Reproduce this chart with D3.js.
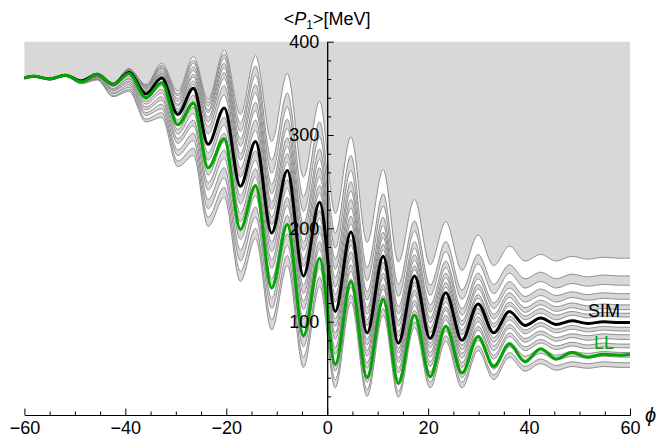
<!DOCTYPE html>
<html><head><meta charset="utf-8">
<script src="https://cdn.jsdelivr.net/npm/d3@7"></script>
<style>body{margin:0;background:#fff}svg{display:block}text{font-family:"Liberation Sans",Arial,sans-serif}</style>
</head><body><svg id="c" width="660" height="446"></svg>
<script>
// phase values at the turning points of the curves
const phiKnots = [-60,-58.2,-55,-51.9,-48.7,-45.6,-42.4,-39.3,-35.9,-32.8,-29.6,-26.5,-23.6,-20.4,-17.2,-14.2,-11,-7.9,-4.7,-1.5,1.6,4.7,7.9,11.1,14.1,17.3,20.4,23.5,26.7,29.9,33,36.1,39.2,42.3,45.4,48.5,51.6,54.8,57.9,60];
const simValues = [361,363,360,364,358,365,354,367,344,361,322,350,290,329,245,293,195,262,149,228,111,196,88,170,77,149,82,131,80,119,88,111,96,104,97,101,98,100,99,99];
const llValues  = [361,363,360,364,357,365,354,366,340,356,311,334,265,296,199,246,136,204,85,168,54,143,40,124,34,107,41,95,45,84,52,76,57,71,60,67,62,65,64,65];
// gray family, top to bottom
const curveU0 = [361,363,360,364,358,366,356,371,354,377,347,384,338,391,322,385,293,366,255,336,216,298,185,263,164,231,161,207,155,193,160,181,165,172,165,170,167,169,168,168];
const curveU1 = [361,363,360,364,358,366,356,371,353,375,344,380,335,387,313,374,273,345,234,314,195,278,158,237,140,208,139,186,134,172,140,161,146,153,146,151,148,150,149,149];
const curveU2 = [361,363,360,364,358,366,356,370,352,373,342,377,331,382,304,364,259,330,218,298,179,262,144,224,127,197,128,175,124,162,130,152,136,143,136,141,138,140,139,139];
const curveU3 = [361,363,360,364,358,366,355,370,351,372,339,373,327,377,296,354,247,317,205,285,167,250,132,212,116,186,118,165,114,152,120,143,127,135,128,132,129,131,130,130];
const curveU4 = [361,363,360,364,358,366,355,369,350,370,336,369,324,372,288,345,237,307,195,274,156,240,123,203,108,179,110,158,107,146,114,136,121,128,121,126,123,125,124,124];
const curveU5 = [361,363,360,364,358,365,355,369,349,368,333,365,319,367,280,335,228,297,185,265,147,231,115,196,101,172,104,152,101,140,108,131,115,123,116,120,117,119,118,118];
const curveU6 = [361,363,360,364,358,365,355,368,347,366,331,362,314,361,273,326,220,288,176,255,137,222,108,190,95,166,99,147,96,135,103,126,110,118,111,115,112,114,113,113];
const curveU7 = [361,363,360,364,358,365,354,368,346,365,328,358,309,353,264,316,212,280,167,246,129,213,102,183,89,160,93,142,91,129,98,121,106,114,107,111,108,110,109,109];
const curveU8 = [361,363,360,364,358,365,354,367,345,363,325,354,301,343,255,305,204,271,159,238,121,205,96,177,84,156,88,137,86,125,94,117,102,109,102,107,104,106,105,105];
const curveL0 = [361,363,360,364,358,364,353,365,341,357,316,343,281,319,235,283,185,252,139,219,103,188,81,164,71,143,77,126,75,114,83,106,91,99,92,96,93,95,94,94];
const curveL1 = [361,363,360,364,357,364,352,363,338,353,311,336,273,311,226,273,175,243,130,211,95,182,75,158,66,139,72,121,70,109,78,102,87,95,88,92,89,91,90,90];
const curveL2 = [361,363,360,364,357,363,350,361,336,349,306,330,265,302,216,264,166,233,122,203,88,175,69,152,61,134,67,116,66,105,74,97,82,90,83,87,85,87,86,86];
const curveL3 = [361,363,360,364,357,363,349,360,333,345,301,323,257,293,207,255,157,224,113,195,81,168,63,147,56,129,62,112,61,100,69,93,78,86,79,83,80,82,81,81];
const curveL4 = [361,363,360,364,357,362,348,358,330,341,296,316,249,284,197,244,146,214,103,186,72,161,56,140,50,123,57,107,56,95,64,88,73,81,74,78,75,77,76,76];
const curveL5 = [361,363,360,363,356,362,347,356,327,337,291,310,241,275,188,235,137,205,94,178,65,154,50,135,45,118,52,102,51,91,60,84,69,77,70,74,71,73,72,72];
const curveL6 = [361,363,360,363,356,361,345,354,324,333,284,302,231,265,177,223,125,194,83,168,56,146,42,128,38,112,46,96,46,85,54,78,63,71,64,68,66,68,67,67];
const curveL7 = [361,363,360,363,356,360,344,351,321,328,278,294,221,254,165,212,114,182,73,158,47,137,35,121,32,106,41,90,40,80,49,73,58,66,59,63,61,63,62,62];
const curveL8 = [361,363,360,363,355,360,342,349,317,324,272,286,212,244,154,200,102,171,62,148,38,129,27,114,25,100,35,85,35,74,43,67,52,60,53,57,55,57,56,56];
const curveL9 = [361,363,360,363,355,359,341,347,314,319,266,278,202,233,143,189,91,160,51,138,29,121,20,107,19,94,29,79,29,69,38,62,47,55,48,52,50,52,51,51];
const xTicks = [-60,-40,-20,0,20,40,60];
const yTicks = [100,200,300,400];

const grayCurves = [curveU0,curveU1,curveU2,curveU3,curveU4,curveU5,curveU6,curveU7,curveU8,
                    curveL0,curveL1,curveL2,curveL3,curveL4,curveL5,curveL6,curveL7,curveL8,curveL9];

const svg = d3.select("#c");
const x = d3.scaleLinear().domain([-60,60]).range([24.4,630]);
const y = d3.scaleLinear().domain([0,400]).range([415,41.7]);
const FILL = "#d8d8d8";

const line = d3.line().x((d,i)=>x(phiKnots[i])).y(d=>y(d)).curve(d3.curveMonotoneX);
const areaTop = d3.area().x((d,i)=>x(phiKnots[i])).y0(()=>y(400)).y1(d=>y(d)).curve(d3.curveMonotoneX);

svg.append("path").attr("d", areaTop(grayCurves[0])).attr("fill", FILL);
for (let b=0;b<grayCurves.length-1;b++){
  const a=grayCurves[b], c=grayCurves[b+1];
  const ar = d3.area().x((d,i)=>x(phiKnots[i])).y0((d,i)=>y(c[i])).y1(d=>y(d)).curve(d3.curveMonotoneX);
  svg.append("path").attr("d", ar(a)).attr("fill", b%2===0 ? "#ffffff" : FILL);
}
grayCurves.forEach(c=>svg.append("path").attr("d", line(c)).attr("fill","none").attr("stroke","#858585").attr("stroke-width",0.9));
svg.append("path").attr("d", line(simValues)).attr("fill","none").attr("stroke","#000").attr("stroke-width",3);
svg.append("path").attr("d", line(llValues)).attr("fill","none").attr("stroke","#00a500").attr("stroke-width",3);

// axes
const fmt = d => d<0 ? "\u2212"+Math.abs(d) : String(d);
const xMinor = d3.range(-60,61,5).filter(v=>!xTicks.includes(v));
const yMinor = d3.range(20,400,20).filter(v=>!yTicks.includes(v));
svg.append("g").attr("transform",`translate(0,${y(0)})`)
  .call(d3.axisBottom(x).tickValues(xMinor).tickSizeInner(-3.5).tickSizeOuter(0).tickFormat(""));
svg.append("g").attr("transform",`translate(0,${y(0)})`)
  .call(d3.axisBottom(x).tickValues(xTicks).tickSizeInner(-6.5).tickSizeOuter(0).tickPadding(6).tickFormat(fmt));
svg.append("g").attr("transform",`translate(${x(0)},0)`)
  .call(d3.axisLeft(y).tickValues(yMinor).tickSizeInner(-4).tickSizeOuter(0).tickFormat(""));
svg.append("g").attr("transform",`translate(${x(0)},0)`)
  .call(d3.axisLeft(y).tickValues(yTicks).tickSizeInner(-6.5).tickSizeOuter(0).tickPadding(8).tickFormat(fmt));
svg.selectAll(".domain").attr("stroke","#000").attr("stroke-width",1);
svg.selectAll(".tick line").attr("stroke","#000").attr("stroke-width",1);
svg.selectAll(".tick text").attr("font-size",18).attr("font-family","Liberation Sans, Arial, sans-serif").attr("fill","#000");

// titles and labels
const t = svg.append("text").attr("x",x(0)).attr("y",25).attr("text-anchor","middle").attr("font-size",18);
t.append("tspan").text("<");
t.append("tspan").attr("font-style","italic").text("P");
t.append("tspan").attr("font-size",12).attr("dy",4).text("1");
t.append("tspan").attr("dy",-4).text(">[MeV]");
svg.append("text").attr("x",645).attr("y",422).attr("font-size",20).attr("font-style","italic").text("\u03D5");
svg.append("text").attr("x",588).attr("y",317).attr("font-size",18).attr("fill","#000").text("SIM");
svg.append("text").attr("x",594).attr("y",349).attr("font-size",18).attr("fill","#00a500").text("LL");
</script></body></html>
